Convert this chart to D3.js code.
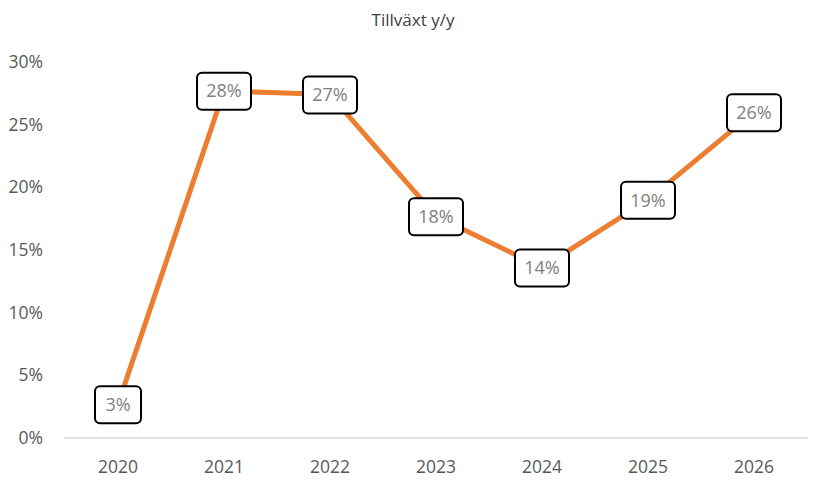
<!DOCTYPE html>
<html><head><meta charset="utf-8">
<script src="https://cdn.jsdelivr.net/npm/d3@7"></script>
<style>body{margin:0;background:#fff}text{font-family:"Open Sans","Liberation Sans",sans-serif}</style>
</head><body><svg id="c" width="820" height="488"></svg>
<script>
const years = ["2020","2021","2022","2023","2024","2025","2026"];
const growth = [0.027, 0.277, 0.274, 0.177, 0.136, 0.190, 0.260];
const labels = ["3%","28%","27%","18%","14%","19%","26%"];
const yTicks = [0,0.05,0.10,0.15,0.20,0.25,0.30];
const title = "Tillväxt y/y";

const svg = d3.select("#c");
const x = d3.scalePoint().domain(years).range([118, 754]);
const y = d3.scaleLinear().domain([0,0.30]).range([438, 62]);

svg.append("text").attr("x", 413).attr("y", 26).attr("text-anchor","middle")
  .attr("font-size", 17).attr("fill","#404040").text(title);

svg.append("line").attr("x1",64).attr("x2",808).attr("y1",y(0)).attr("y2",y(0))
  .attr("stroke","#d9d9d9").attr("stroke-width",1.5);

svg.append("g").selectAll("text").data(yTicks).join("text")
  .attr("x", 43).attr("y", d=>y(d)).attr("dy","0.35em").attr("text-anchor","end")
  .attr("font-size",17.5).attr("fill","#595959").text(d=>d3.format(".0%")(d));

svg.append("g").selectAll("text").data(years).join("text")
  .attr("x", d=>x(d)).attr("y", 473).attr("text-anchor","middle")
  .attr("font-size",17.5).attr("fill","#595959").text(d=>d);

const line = d3.line().x((d,i)=>x(years[i])).y(d=>y(d));
svg.append("path").datum(growth).attr("d", line).attr("fill","none")
  .attr("stroke","#ED7D31").attr("stroke-width",5).attr("stroke-linejoin","round");

const g = svg.append("g").selectAll("g").data(growth).join("g")
  .attr("transform",(d,i)=>`translate(${x(years[i])},${y(d)})`);
g.append("rect").attr("x",(d,i)=>labels[i].length>2?-27:-23).attr("y",-18)
  .attr("width",(d,i)=>labels[i].length>2?54:46).attr("height",37)
  .attr("rx",5).attr("fill","#fff").attr("stroke","#000").attr("stroke-width",2);
g.append("text").attr("text-anchor","middle").attr("dy","0.37em")
  .attr("font-size",18).attr("fill","#7f7f7f").text((d,i)=>labels[i]);
</script></body></html>
